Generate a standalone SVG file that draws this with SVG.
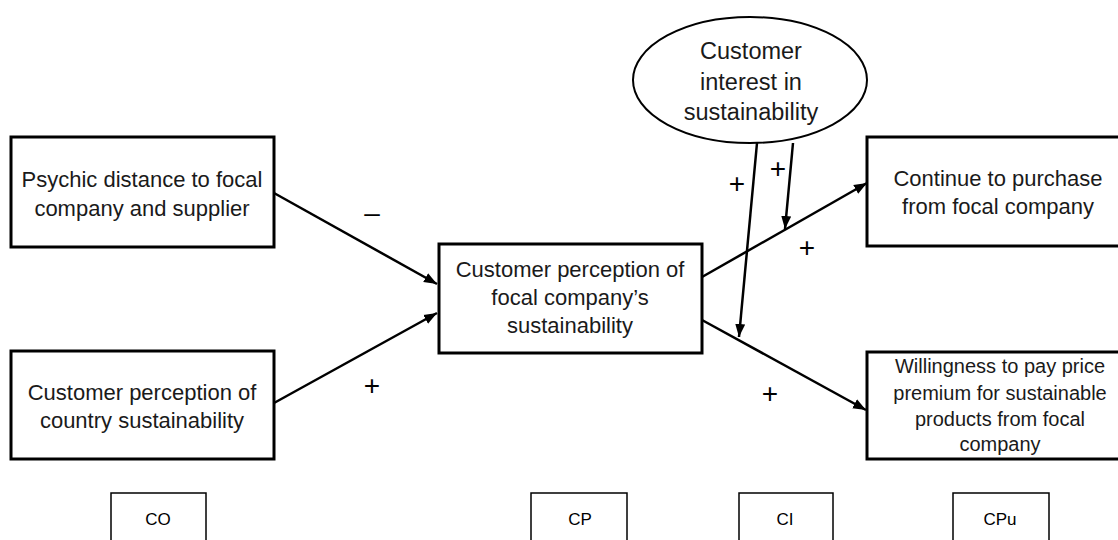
<svg xmlns="http://www.w3.org/2000/svg" width="1118" height="540" viewBox="0 0 1118 540">
<defs>
<style>
.box{fill:#fff;stroke:#000;stroke-width:3}
.sbox{fill:#fff;stroke:#000;stroke-width:1.5}
.t{font-family:"Liberation Sans",Arial,sans-serif;font-size:22px;fill:#1a1a1a;text-anchor:middle}
.t2{font-family:"Liberation Sans",Arial,sans-serif;font-size:20px;fill:#1a1a1a;text-anchor:middle}
.te{font-family:"Liberation Sans",Arial,sans-serif;font-size:23.5px;fill:#1a1a1a;text-anchor:middle}
.st{font-family:"Liberation Sans",Arial,sans-serif;font-size:17px;fill:#000;text-anchor:middle}
.sign{font-family:"Liberation Sans",Arial,sans-serif;font-size:28px;fill:#000;text-anchor:middle}
.c{stroke:#000;stroke-width:2.5;fill:none;marker-end:url(#ah)}
</style>
<marker id="ah" markerUnits="userSpaceOnUse" markerWidth="14" markerHeight="12" refX="13" refY="6" orient="auto">
<path d="M0,1 L13,6 L0,11 Z" fill="#000"/>
</marker>
</defs>
<rect width="1118" height="540" fill="#fff"/>

<g id="connectors">
<line class="c" x1="274" y1="193" x2="437" y2="284"/>
<line class="c" x1="274" y1="403" x2="437" y2="313"/>
<line class="c" x1="702" y1="277" x2="867" y2="183"/>
<line class="c" x1="702" y1="320" x2="866" y2="410"/>
<line class="c" x1="757" y1="143" x2="739" y2="337"/>
<line class="c" x1="793" y1="143" x2="785" y2="229"/>
<text class="sign" x="372" y="222">–</text>
<text class="sign" x="372" y="395">+</text>
<text class="sign" x="737" y="193">+</text>
<text class="sign" x="778" y="178">+</text>
<text class="sign" x="807" y="257">+</text>
<text class="sign" x="770" y="403">+</text>
</g>

<g id="psychic">
<rect class="box" x="11" y="137" width="263" height="110"/>
<text class="t" x="142" y="187">Psychic distance to focal</text>
<text class="t" x="142" y="216">company and supplier</text>
</g>

<g id="country">
<rect class="box" x="11" y="351" width="263" height="108"/>
<text class="t" x="142" y="400">Customer perception of</text>
<text class="t" x="142" y="428">country sustainability</text>
</g>

<g id="perception">
<rect class="box" x="439" y="244" width="263" height="109"/>
<text class="t" x="570" y="277">Customer perception of</text>
<text class="t" x="570" y="305">focal company’s</text>
<text class="t" x="570" y="333">sustainability</text>
</g>

<g id="interest">
<ellipse cx="750" cy="80" rx="117" ry="63" fill="#fff" stroke="#000" stroke-width="2"/>
<text class="te" x="751" y="59">Customer</text>
<text class="te" x="751" y="90">interest in</text>
<text class="te" x="751" y="120">sustainability</text>
</g>

<g id="continue">
<rect class="box" x="867" y="137" width="264" height="109"/>
<text class="t" x="998" y="186">Continue to purchase</text>
<text class="t" x="998" y="214">from focal company</text>
</g>

<g id="willingness">
<rect class="box" x="867" y="352" width="264" height="107"/>
<text class="t2" x="1000" y="373">Willingness to pay price</text>
<text class="t2" x="1000" y="400">premium for sustainable</text>
<text class="t2" x="1000" y="426">products from focal</text>
<text class="t2" x="1000" y="451">company</text>
</g>

<g id="co">
<rect class="sbox" x="111" y="493" width="95" height="60"/>
<text class="st" x="158" y="525">CO</text>
</g>
<g id="cp">
<rect class="sbox" x="531" y="493" width="96" height="60"/>
<text class="st" x="580" y="525">CP</text>
</g>
<g id="ci">
<rect class="sbox" x="739" y="493" width="94" height="60"/>
<text class="st" x="785" y="525">CI</text>
</g>
<g id="cpu">
<rect class="sbox" x="953" y="493" width="96" height="60"/>
<text class="st" x="1000" y="525">CPu</text>
</g>
</svg>
